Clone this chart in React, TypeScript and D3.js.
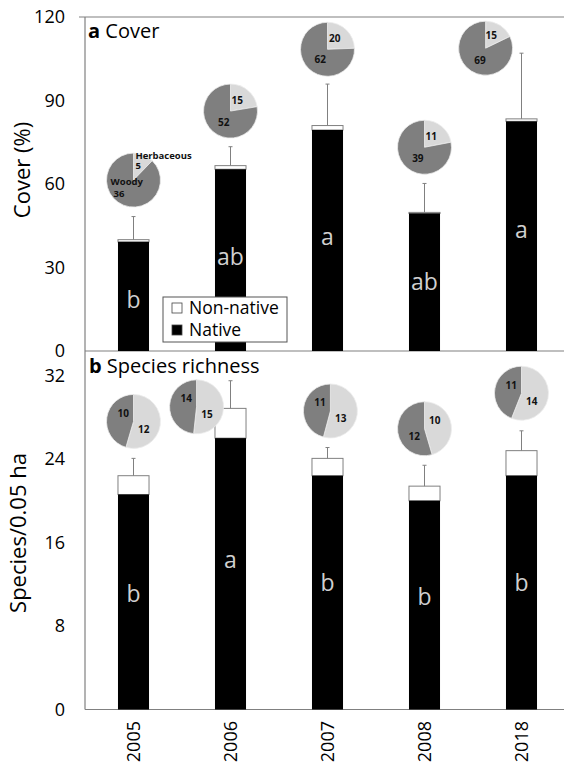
import React, { useEffect, useRef } from 'react';
import * as d3 from 'd3';

// Sampling years (x categories)
const YEARS = ['2005', '2006', '2007', '2008', '2018'];

// Panel a: cover (%)
const COVER_NATIVE = [39.2, 65.3, 79.4, 49.4, 82.5];
const COVER_TOTAL = [40.0, 66.6, 81.0, 49.8, 83.4];
const COVER_ERR_TOP = [48.3, 73.4, 95.9, 60.2, 107.0];
const COVER_LETTERS = ['b', 'ab', 'a', 'ab', 'a'];
const COVER_LETTER_AT = [15.4, 30.9, 38.1, 21.9, 40.6];
const COVER_HERB = [5, 15, 20, 11, 15];
const COVER_WOODY = [36, 52, 62, 39, 69];
const COVER_PIE_AT = [61.4, 86.2, 108.4, 73.2, 108.8];
const COVER_PIE_SHIFT = [0, 0, 0, 0, -0.37];
const COVER_TICKS = [0, 30, 60, 90, 120];

// Panel b: species richness
const RICH_NATIVE = [20.6, 26.0, 22.4, 20.0, 22.4];
const RICH_TOTAL = [22.4, 28.85, 24.06, 21.4, 24.8];
const RICH_ERR_TOP = [24.06, 31.5, 25.1, 23.4, 26.7];
const RICH_LETTERS = ['b', 'a', 'b', 'b', 'b'];
const RICH_LETTER_AT = [10.3, 13.6, 11.35, 10.0, 11.35];
const RICH_HERB = [12, 15, 13, 10, 14];
const RICH_WOODY = [10, 14, 11, 12, 11];
const RICH_PIE_AT = [27.6, 29.0, 28.6, 26.9, 30.3];
const RICH_PIE_SHIFT = [0, -0.35, 0.03, 0, 0];
const RICH_TICKS = [0, 8, 16, 24, 32];

const W = 564;
const H = 762;
const FONT = '"Open Sans", "Liberation Sans", sans-serif';
const AXIS_GRAY = '#808080';
const HERB_COLOR = '#d9d9d9';
const WOODY_COLOR = '#7f7f7f';
const PIE_R = 27;

interface PanelOpts {
  y: d3.ScaleLinear<number, number>;
  ticks: number[];
  native: number[];
  total: number[];
  errTop: number[];
  letters: string[];
  letterAt: number[];
  herb: number[];
  woody: number[];
  pieAt: number[];
  pieShift: number[];
  named: boolean;
}

export default function App() {
  const svgRef = useRef<SVGSVGElement>(null);

  useEffect(() => {
    if (!svgRef.current) return;
    const svg = d3.select(svgRef.current);
    svg.selectAll('*').remove();

    const x = d3.scaleBand<string>()
      .domain(YEARS)
      .range([85, 570])
      .paddingInner(0.68)
      .paddingOuter(0.34);

    const yCover = d3.scaleLinear().domain([0, 120]).range([351, 17]);
    const yRich = d3.scaleLinear().domain([0, 32]).range([709.5, 375.5]);

    const pie = d3.pie<{ k: string; v: number }>().sort(null).value(d => d.v);
    const arc = d3.arc<d3.PieArcDatum<{ k: string; v: number }>>().innerRadius(0).outerRadius(PIE_R);
    const labelArc = d3.arc<d3.PieArcDatum<{ k: string; v: number }>>().innerRadius(14.5).outerRadius(14.5);

    const drawPanel = (o: PanelOpts) => {
      const g = svg.append('g');
      const [y0] = o.y.range();

      // x axis line
      g.append('line')
        .attr('x1', 85).attr('x2', W)
        .attr('y1', y0).attr('y2', y0)
        .attr('stroke', AXIS_GRAY).attr('stroke-width', 1.2);

      // y tick labels
      g.selectAll('.tick-label')
        .data(o.ticks)
        .enter().append('text')
        .attr('x', 65)
        .attr('y', d => o.y(d))
        .attr('dy', '0.35em')
        .attr('text-anchor', 'end')
        .style('font-family', FONT)
        .style('font-size', '18px')
        .style('fill', '#000')
        .text(d => d);

      YEARS.forEach((yr, i) => {
        const bx = x(yr) || 0;
        const bw = x.bandwidth();
        const cx = bx + bw / 2;

        // non-native (white) segment
        g.append('rect')
          .attr('x', bx).attr('width', bw)
          .attr('y', o.y(o.total[i]))
          .attr('height', o.y(o.native[i]) - o.y(o.total[i]))
          .attr('fill', '#fff')
          .attr('stroke', AXIS_GRAY).attr('stroke-width', 1);

        // native (black) segment
        g.append('rect')
          .attr('x', bx).attr('width', bw)
          .attr('y', o.y(o.native[i]))
          .attr('height', y0 - o.y(o.native[i]))
          .attr('fill', '#000');

        // error bar
        g.append('line')
          .attr('x1', cx).attr('x2', cx)
          .attr('y1', o.y(o.total[i])).attr('y2', o.y(o.errTop[i]))
          .attr('stroke', AXIS_GRAY).attr('stroke-width', 1);
        g.append('line')
          .attr('x1', cx - 2).attr('x2', cx + 2)
          .attr('y1', o.y(o.errTop[i])).attr('y2', o.y(o.errTop[i]))
          .attr('stroke', AXIS_GRAY).attr('stroke-width', 1);

        // significance letter
        g.append('text')
          .attr('x', cx)
          .attr('y', o.y(o.letterAt[i]))
          .attr('text-anchor', 'middle')
          .style('font-family', FONT)
          .style('font-size', '23px')
          .style('fill', '#d0d0d0')
          .text(o.letters[i]);

        // pie of woody vs herbaceous
        const pcx = cx + o.pieShift[i] * x.step();
        const pcy = o.y(o.pieAt[i]);
        const slices = pie([
          { k: 'herb', v: o.herb[i] },
          { k: 'woody', v: o.woody[i] }
        ]);
        const pg = g.append('g').attr('transform', `translate(${pcx},${pcy})`);
        pg.selectAll('path')
          .data(slices)
          .enter().append('path')
          .attr('d', d => arc(d) as string)
          .attr('fill', d => (d.data.k === 'herb' ? HERB_COLOR : WOODY_COLOR))
          .attr('stroke', '#ececec')
          .attr('stroke-width', 0.8);

        slices.forEach(s => {
          const [lx, ly] = labelArc.centroid(s);
          const px = lx * 0.72;
          const py = Math.sign(ly) * Math.max(Math.abs(ly), 8);
          if (o.named && i === 0) {
            // first pie carries the slice names
            const isHerb = s.data.k === 'herb';
            const ax = isHerb ? px - 2 : px - 19;
            const nameY = isHerb ? py - 8 : py - 8.5;
            const valY = isHerb ? py + 2 : py + 3.5;
            [
              { t: isHerb ? 'Herbaceous' : 'Woody', x: ax, y: nameY },
              { t: String(s.data.v), x: ax + (isHerb ? 0 : 3), y: valY }
            ].forEach(l => {
              pg.append('text')
                .attr('x', l.x).attr('y', l.y)
                .attr('text-anchor', 'start')
                .style('font-family', FONT)
                .style('font-size', '9.5px')
                .style('font-weight', 'bold')
                .style('fill', '#111')
                .text(l.t);
            });
          } else {
            pg.append('text')
              .attr('x', px).attr('y', py)
              .attr('dy', '0.35em')
              .attr('text-anchor', 'middle')
              .style('font-family', FONT)
              .style('font-size', '10px')
              .style('font-weight', 'bold')
              .style('fill', '#111')
              .text(String(s.data.v));
          }
        });
      });
    };

    drawPanel({
      y: yCover, ticks: COVER_TICKS,
      native: COVER_NATIVE, total: COVER_TOTAL, errTop: COVER_ERR_TOP,
      letters: COVER_LETTERS, letterAt: COVER_LETTER_AT,
      herb: COVER_HERB, woody: COVER_WOODY,
      pieAt: COVER_PIE_AT, pieShift: COVER_PIE_SHIFT, named: true
    });

    drawPanel({
      y: yRich, ticks: RICH_TICKS,
      native: RICH_NATIVE, total: RICH_TOTAL, errTop: RICH_ERR_TOP,
      letters: RICH_LETTERS, letterAt: RICH_LETTER_AT,
      herb: RICH_HERB, woody: RICH_WOODY,
      pieAt: RICH_PIE_AT, pieShift: RICH_PIE_SHIFT, named: false
    });

    // shared y axis line and top frame line
    svg.append('line')
      .attr('x1', 85).attr('x2', 85)
      .attr('y1', yCover(120)).attr('y2', yRich(0))
      .attr('stroke', AXIS_GRAY).attr('stroke-width', 1.2);
    svg.append('line')
      .attr('x1', 79).attr('x2', W)
      .attr('y1', yCover(120)).attr('y2', yCover(120))
      .attr('stroke', AXIS_GRAY).attr('stroke-width', 1.2);

    // panel titles
    const t1 = svg.append('text').attr('x', 88).attr('y', 38)
      .style('font-family', FONT).style('font-size', '20px').style('fill', '#000');
    t1.append('tspan').style('font-weight', 'bold').text('a');
    t1.append('tspan').text(' Cover');
    const t2 = svg.append('text').attr('x', 89).attr('y', 373)
      .style('font-family', FONT).style('font-size', '20px').style('fill', '#000');
    t2.append('tspan').style('font-weight', 'bold').text('b');
    t2.append('tspan').text(' Species richness');

    // y axis titles
    svg.append('text')
      .attr('transform', 'translate(30,170) rotate(-90)')
      .attr('text-anchor', 'middle')
      .style('font-family', FONT).style('font-size', '22px').style('fill', '#000')
      .text('Cover (%)');
    svg.append('text')
      .attr('transform', 'translate(26,533) rotate(-90)')
      .attr('text-anchor', 'middle')
      .style('font-family', FONT).style('font-size', '22px').style('fill', '#000')
      .text('Species/0.05 ha');

    // x tick labels (rotated)
    svg.selectAll('.year-label')
      .data(YEARS)
      .enter().append('text')
      .attr('transform', d => `translate(${(x(d) || 0) + x.bandwidth() / 2},721) rotate(-90)`)
      .attr('dy', '0.35em')
      .attr('text-anchor', 'end')
      .style('font-family', FONT).style('font-size', '18px').style('fill', '#000')
      .text(d => d);

    // legend
    const legend = svg.append('g').attr('transform', 'translate(163,297)');
    legend.append('rect')
      .attr('width', 124).attr('height', 45)
      .attr('fill', '#fff').attr('stroke', '#555').attr('stroke-width', 1);
    const items = [
      { label: 'Non-native', fill: '#fff' },
      { label: 'Native', fill: '#000' }
    ];
    items.forEach((it, i) => {
      legend.append('rect')
        .attr('x', 9).attr('y', 6 + i * 22)
        .attr('width', 10).attr('height', 10)
        .attr('fill', it.fill).attr('stroke', '#444').attr('stroke-width', 0.8);
      legend.append('text')
        .attr('x', 26).attr('y', 11 + i * 22)
        .attr('dy', '0.35em')
        .style('font-family', FONT).style('font-size', '17.5px').style('fill', '#000')
        .text(it.label);
    });
  }, []);

  return (
    <div style={{ position: 'absolute', left: 0, top: 0, width: W, height: H, background: '#fff' }}>
      <svg ref={svgRef} width={W} height={H} viewBox={`0 0 ${W} ${H}`} />
    </div>
  );
}
